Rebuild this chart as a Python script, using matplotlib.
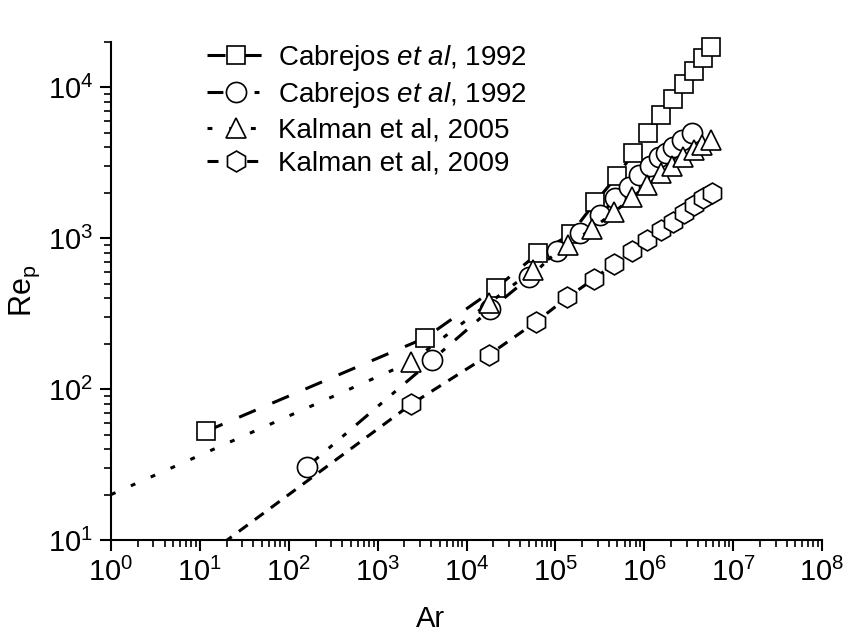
import matplotlib
matplotlib.use("Agg")
import matplotlib.pyplot as plt
from matplotlib.ticker import LogLocator, NullFormatter
from matplotlib.legend_handler import HandlerTuple

plt.rcParams['font.family'] = ['Liberation Sans', 'DejaVu Sans']
plt.rcParams['mathtext.fontset'] = 'custom'
plt.rcParams['mathtext.rm'] = 'Liberation Sans'
plt.rcParams['mathtext.it'] = 'Liberation Sans:italic'

# Cabrejos et al 1992 (squares)
sq_ar = [11.7, 3.4e3, 2.12e4, 6.4e4, 1.48e5, 2.8e5, 4.9e5, 7.5e5, 1.1e6,
         1.55e6, 2.12e6, 2.8e6, 3.65e6, 4.6e6, 5.6e6]
sq_re = [52.5, 218, 465, 795, 1060, 1730, 2570, 3650, 4960,
         6530, 8330, 10500, 12800, 15600, 18400]

# Cabrejos et al 1992 (circles)
ci_ar = [159, 4.05e3, 1.86e4, 5.1e4, 1.05e5, 1.9e5, 3.2e5, 4.7e5, 6.8e5,
         8.7e5, 1.16e6, 1.48e6, 1.77e6, 2.12e6, 2.69e6, 3.46e6]
ci_re = [30.4, 155, 338, 550, 820, 1080, 1420, 1840, 2180,
         2620, 3000, 3440, 3650, 4000, 4450, 4960]

# Kalman et al 2005 (first point is only the start of the curve)
tr_ar = [1, 2.35e3, 1.8e4, 5.6e4, 1.4e5, 2.6e5, 4.6e5, 7.3e5, 1.08e6,
         1.55e6, 2.06e6, 2.7e6, 3.65e6, 4.5e6, 5.65e6]
tr_re = [20, 151, 372, 615, 900, 1160, 1490, 1870, 2240,
         2700, 3030, 3450, 3820, 4150, 4470]

# Kalman et al 2009
hx_ar = [1, 2.4e3, 1.77e4, 6e4, 1.36e5, 2.7e5, 4.6e5, 7.3e5, 1.08e6,
         1.55e6, 2.1e6, 2.8e6, 3.65e6, 4.6e6, 5.8e6]
hx_re = [2.7, 79.6, 168, 278, 405, 536, 680, 820, 970,
         1130, 1280, 1460, 1660, 1840, 1990]

labels = [r'Cabrejos $\mathit{et\ al}$, 1992', r'Cabrejos $\mathit{et\ al}$, 1992',
          'Kalman et al, 2005', 'Kalman et al, 2009']

x_decades = [10.0 ** i for i in range(0, 9)]
y_decades = [10.0 ** i for i in range(1, 5)]

series = [
    (sq_ar, sq_re, 's', 13, [5.9, 5.9], 0),
    (ci_ar, ci_re, 'o', 14.5, [5.2, 4.3, 1.6, 4.3, 1.6, 4.3], 0),
    (tr_ar, tr_re, '^', 15, [1.6, 5.5], 1),
    (hx_ar, hx_re, 'h', 15, [3.6, 2.9], 1),
]

fig = plt.figure(figsize=(8.44, 6.33), dpi=100)
ax = fig.add_axes([111 / 844, 93 / 633, 711 / 844, 498 / 633])

handles = []
for x, y, mk, size, dashes, skip in series:
    # line is clipped to the axes, the symbols are not
    ln, = ax.plot(x, y, color='black', lw=2.2)
    ln.set_dashes(dashes)
    pts, = ax.plot(x[skip:], y[skip:], ls='none', marker=mk, ms=size,
                   mfc='white', mec='black', mew=1.2, clip_on=False)
    handles.append((ln, pts))

ax.set_xscale('log')
ax.set_yscale('log')
ax.set_xlim(1, 1e8)
ax.set_ylim(10, 2e4)

ax.set_xticks(x_decades)
ax.set_yticks(y_decades)
ax.xaxis.set_minor_locator(LogLocator(base=10, subs=range(2, 10), numticks=100))
ax.xaxis.set_minor_formatter(NullFormatter())
ax.yaxis.set_minor_locator(LogLocator(base=10, subs=range(2, 10), numticks=100))
ax.yaxis.set_minor_formatter(NullFormatter())

for side in ['top', 'right']:
    ax.spines[side].set_visible(False)
for side in ['left', 'bottom']:
    ax.spines[side].set_linewidth(1.5)

ax.tick_params(which='major', direction='out', length=8, width=1.5,
               labelsize=21, pad=5)
ax.tick_params(which='minor', direction='out', length=5, width=1.2)

ax.set_xlabel('Ar', fontsize=21)
ax.set_ylabel(r'Re$_\mathregular{p}$', fontsize=22)
ax.xaxis.set_label_coords((430 - 111) / 711, -(605 - 540) / 498)
ax.yaxis.set_label_coords(-(111 - 42) / 711, 0.5)

ax.legend(handles, labels, handler_map={tuple: HandlerTuple(ndivide=1)},
          loc='upper left', bbox_to_anchor=(207 / 844, 1 - 43 / 633),
          bbox_transform=fig.transFigure, frameon=False, fontsize=20,
          handlelength=2.1, handletextpad=0.47,
          labelspacing=0.26, borderpad=0, borderaxespad=0)

fig.savefig('out.png', dpi=100)
